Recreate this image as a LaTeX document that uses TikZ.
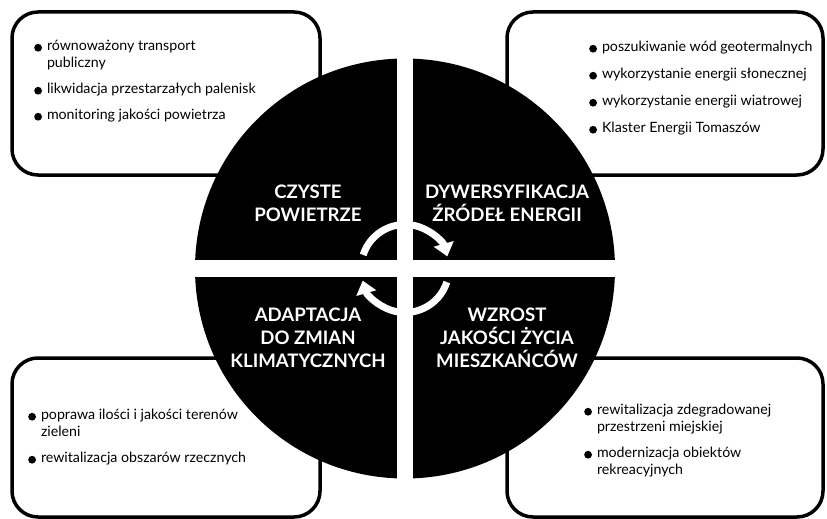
\documentclass[tikz,border=0pt]{standalone}
\usepackage{fontspec}
\setmainfont{Lato}
\usetikzlibrary{arrows.meta,positioning}

\newcommand{\kr}{\tikz[baseline=-0.33ex]\fill (0,0) circle (3.9pt);}

\begin{document}
\begin{tikzpicture}[x=1pt,y=-1pt,
	ramka/.style={draw,line width=3.5pt,rounded corners=26pt},
	lista/.style={anchor=north west,align=left,inner sep=0pt,font=\fontsize{14.2}{17}\selectfont},
	haslo/.style={text=white,align=center,inner sep=0pt,font=\bfseries\fontsize{18.6}{22.8}\selectfont},
	strzalka/.style={white,line width=7pt,-{Triangle[width=20pt,length=13pt]}}]
	\useasboundingbox (0,0) rectangle (827,519);
	
	% ramki
	\draw[ramka] (12,12) rectangle (320,175);
	\draw[ramka] (507,12) rectangle (823,175);
	\draw[ramka] (12,358) rectangle (320,517);
	\draw[ramka] (507,358) rectangle (823,517);
	
	\node[lista] (lg) at (34,38) {\begin{tabular}{@{}c@{\hspace{5pt}}l@{}}
		\kr & równoważony transport\\ & publiczny\\[9pt]
		\kr & likwidacja przestarzałych palenisk\\[9pt]
		\kr & monitoring jakości powietrza\end{tabular}};
	\node[lista] (pg) at (589,39) {\begin{tabular}{@{}c@{\hspace{5pt}}l@{}}
		\kr & poszukiwanie wód geotermalnych\\[10pt]
		\kr & wykorzystanie energii słonecznej\\[10pt]
		\kr & wykorzystanie energii wiatrowej\\[10pt]
		\kr & Klaster Energii Tomaszów\end{tabular}};
	\node[lista] (ld) at (28,407) {\begin{tabular}{@{}c@{\hspace{5pt}}l@{}}
		\kr & poprawa ilości i jakości terenów\\ & zieleni\\[9pt]
		\kr & rewitalizacja obszarów rzecznych\end{tabular}};
	\node[lista] (pd) at (584,402) {\begin{tabular}{@{}c@{\hspace{5pt}}l@{}}
		\kr & rewitalizacja zdegradowanej\\ & przestrzeni miejskiej\\[9pt]
		\kr & modernizacja obiektów\\ & rekreacyjnych\end{tabular}};
	
	% kolo
	\coordinate (srodek) at (405,268.5);
	\fill (srodek) circle (210);
	\fill[white] (397,50) rectangle (413,490);
	\fill[white] (185,260) rectangle (625,277);
	
	\node[haslo] (czyste) at (308,203) {CZYSTE\\POWIETRZE};
	\node[haslo] (dywer) at (507,203) {DYWERSYFIKACJA\\ŹRÓDEŁ ENERGII};
	\node[haslo] (adapt) at (308,338) {ADAPTACJA\\DO ZMIAN\\KLIMATYCZNYCH};
	\node[haslo] (wzrost) at (507,338) {WZROST\\JAKOŚCI ŻYCIA\\MIESZKAŃCÓW};
	
	\draw[strzalka] ([shift={(-162:44)}]srodek) arc (-162:-16:44);
	\draw[strzalka] ([shift={(18:44)}]srodek) arc (18:164:44);
\end{tikzpicture}
\end{document}
